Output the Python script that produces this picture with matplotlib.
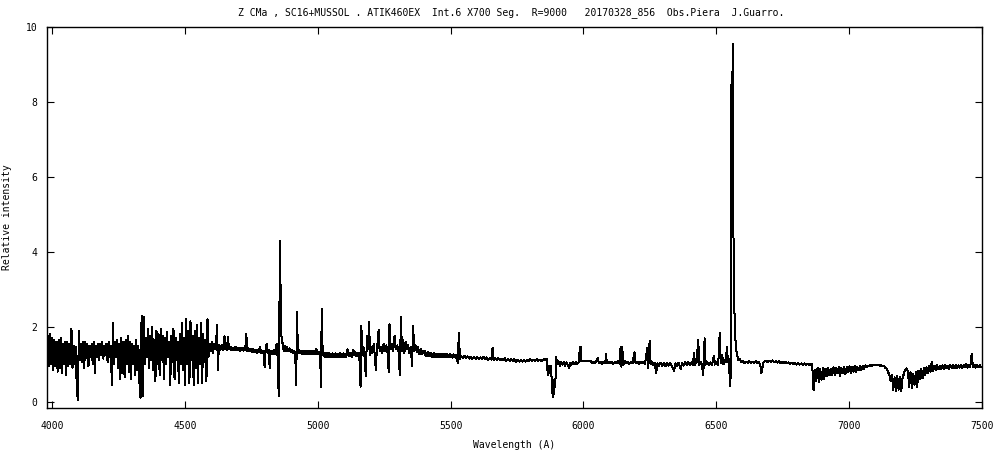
import numpy as np
import matplotlib
matplotlib.use("Agg")
import matplotlib.pyplot as plt

TITLE = "Z CMa , SC16+MUSSOL . ATIK460EX  Int.6 X700 Seg.  R=9000   20170328_856  Obs.Piera  J.Guarro."

# blue end: very noisy, sampled every 4 A from 3981
blue_start, blue_step = 3981, 4
blue_flux = [
    0.35, 1.75, 0.95, 1.80, 1.00, 1.70, 0.85, 1.65, 0.95, 1.60,
    0.80, 1.65, 0.90, 1.70, 0.75, 1.55, 1.00, 1.60, 0.70, 1.60,
    0.95, 1.55, 1.00, 1.95, 0.90, 1.50, 1.00, 1.45, 0.35, 0.05,
    1.90, 1.10, 1.55, 1.05, 1.60, 0.90, 1.60, 1.15, 1.55, 0.95,
    1.50, 1.20, 1.55, 1.00, 1.60, 0.75, 1.50, 1.20, 1.55, 1.10,
    1.55, 1.25, 1.60, 1.15, 1.50, 1.25, 1.55, 1.05, 1.60, 1.20,
    1.50, 0.45, 2.10, 1.00, 1.60, 1.20, 1.65, 0.90, 1.55, 0.60,
    1.70, 0.75, 1.60, 0.65, 1.65, 1.00, 1.75, 0.80, 1.60, 0.60,
    1.55, 1.00, 1.50, 0.70, 1.65, 0.85, 1.50, 0.50, 0.10, 2.30,
    0.15, 2.25, 1.00, 1.70, 1.20, 1.95, 0.90, 1.75, 1.10, 2.00,
    0.85, 1.65, 0.55, 1.90, 1.00, 1.80, 0.70, 1.95, 1.10, 1.75,
    0.60, 1.70, 1.00, 1.85, 1.20, 1.60, 0.45, 1.75, 1.05, 1.95,
    0.60, 1.70, 1.10, 1.60, 0.50, 1.80, 1.00, 2.10, 0.85, 1.70,
    0.45, 2.20, 1.00, 1.90, 0.50, 2.15, 1.10, 1.75, 0.45, 1.90,
    0.90, 2.05, 0.50, 1.70, 1.00, 2.10, 0.50, 1.80, 1.05, 1.65,
    0.55, 2.20, 1.20, 1.55, 1.35, 1.60, 1.30, 1.55, 1.40, 1.50,
]

# (wavelength, flux) pairs
hbeta_part = [
    (4621, 2.05), (4624, 0.85), (4628, 1.50), (4631, 1.38), (4634, 1.48), (4637, 1.40),
    (4640, 1.50), (4644, 1.38), (4649, 1.75), (4652, 1.40), (4655, 1.48), (4658, 1.39),
    (4662, 1.72), (4666, 1.40), (4669, 1.47), (4672, 1.38), (4675, 1.45), (4678, 1.37),
    (4681, 1.44), (4684, 1.38), (4687, 1.46), (4690, 1.37), (4693, 1.45), (4696, 1.38),
    (4699, 1.44), (4702, 1.37), (4705, 1.43), (4708, 1.36), (4711, 1.44), (4714, 1.37),
    (4717, 1.43), (4720, 1.36), (4723, 1.42), (4727, 1.37), (4731, 1.82), (4735, 1.36),
    (4738, 1.42), (4741, 1.35), (4744, 1.41), (4747, 1.34), (4750, 1.40), (4753, 1.33),
    (4756, 1.40), (4759, 1.33), (4762, 1.39), (4765, 1.32), (4768, 1.39), (4771, 1.31),
    (4774, 1.38), (4777, 1.32), (4782, 1.45), (4786, 1.30), (4789, 1.37), (4792, 1.31),
    (4796, 1.36), (4800, 0.93), (4804, 1.38), (4808, 1.55), (4812, 1.31), (4816, 1.38),
    (4819, 0.89), (4823, 1.36), (4826, 1.29), (4829, 1.35), (4832, 1.28), (4835, 1.38),
    (4838, 1.28), (4841, 1.34), (4845, 1.55), (4849, 1.20), (4853, 0.15), (4858, 4.30),
    (4861, 2.35), (4864, 1.65), (4868, 1.55), (4872, 1.35), (4876, 1.48), (4880, 1.36),
    (4885, 1.45), (4890, 1.34), (4895, 1.42), (4900, 1.32), (4904, 1.38), (4908, 1.30),
    (4912, 1.35), (4915, 1.25), (4917, 0.90), (4919, 0.45), (4922, 2.40), (4925, 1.40),
    (4928, 1.31), (4931, 1.37), (4934, 1.29), (4937, 1.36), (4940, 1.28), (4943, 1.35),
    (4946, 1.28), (4949, 1.34), (4952, 1.27), (4955, 1.34), (4958, 1.28), (4961, 1.35),
    (4964, 1.27), (4967, 1.34), (4970, 1.28), (4974, 1.36), (4977, 1.27), (4980, 1.34),
    (4983, 1.28), (4986, 1.35), (4989, 1.27), (4995, 1.40), (4999, 1.27), (5004, 1.33),
    (5009, 1.28), (5012, 0.40), (5015, 2.47), (5018, 1.45), (5022, 1.22), (5025, 1.31),
    (5028, 1.20), (5031, 1.30), (5034, 1.20), (5037, 1.29), (5040, 1.19), (5043, 1.30),
    (5046, 1.18), (5049, 1.28), (5052, 1.19), (5055, 1.29), (5058, 1.20), (5061, 1.28),
    (5064, 1.18), (5067, 1.29), (5070, 1.19), (5073, 1.28), (5076, 1.20), (5079, 1.27),
    (5082, 1.19), (5085, 1.30), (5088, 1.20), (5091, 1.28), (5094, 1.19), (5097, 1.29),
    (5100, 1.20), (5103, 1.28), (5106, 1.20), (5112, 1.40), (5116, 1.22), (5119, 1.31),
    (5122, 1.21), (5125, 1.30), (5128, 1.20), (5134, 1.38), (5138, 1.24), (5141, 1.32),
    (5144, 1.22), (5147, 1.31), (5150, 1.23), (5156, 1.30), (5161, 0.40), (5164, 2.02),
    (5168, 1.25), (5172, 1.45), (5176, 1.20), (5181, 0.67), (5185, 1.75), (5189, 1.40),
    (5193, 2.14), (5197, 1.25), (5202, 1.45), (5206, 1.30), (5211, 1.55), (5215, 1.20),
    (5219, 0.83), (5222, 1.40), (5226, 1.60), (5229, 1.91), (5233, 1.35), (5238, 1.45),
    (5243, 1.30), (5248, 1.55), (5253, 1.35), (5258, 1.50), (5263, 1.30), (5267, 0.80),
    (5270, 2.07), (5274, 1.40), (5279, 1.55), (5284, 1.35), (5289, 1.75), (5294, 1.40),
    (5299, 1.50), (5304, 1.35), (5309, 0.70), (5313, 2.25), (5317, 1.35), (5322, 1.65),
    (5326, 1.30), (5331, 1.60), (5335, 1.40), (5340, 1.50), (5345, 1.30), (5350, 1.45),
    (5355, 0.95), (5359, 2.02), (5363, 1.35), (5368, 1.50), (5373, 1.33), (5378, 1.45),
    (5381, 1.28), (5384, 1.38), (5387, 1.27), (5390, 1.40), (5393, 1.26), (5396, 1.35),
]

green_part = [
    (5402, 1.35), (5405, 1.23), (5408, 1.31), (5411, 1.22), (5414, 1.32), (5417, 1.21),
    (5420, 1.30), (5423, 1.21), (5426, 1.30), (5429, 1.20), (5432, 1.28), (5435, 1.20),
    (5438, 1.29), (5441, 1.20), (5444, 1.27), (5447, 1.19), (5450, 1.28), (5453, 1.20),
    (5456, 1.27), (5459, 1.19), (5462, 1.28), (5465, 1.18), (5468, 1.26), (5471, 1.19),
    (5474, 1.27), (5477, 1.19), (5480, 1.26), (5483, 1.18), (5486, 1.27), (5489, 1.18),
    (5492, 1.25), (5495, 1.18), (5498, 1.26), (5501, 1.18), (5504, 1.25), (5507, 1.17),
    (5510, 1.26), (5513, 1.18), (5516, 1.24), (5519, 1.17), (5522, 1.25), (5527, 1.02),
    (5531, 1.84), (5535, 1.15), (5540, 1.22), (5546, 1.16), (5552, 1.22), (5558, 1.16),
    (5564, 1.21), (5570, 1.15), (5576, 1.20), (5582, 1.14), (5588, 1.20), (5594, 1.14),
    (5600, 1.19), (5606, 1.14), (5612, 1.18), (5618, 1.13), (5624, 1.19), (5630, 1.13),
    (5636, 1.18), (5642, 1.12), (5648, 1.17), (5654, 1.12), (5658, 1.44), (5662, 1.11),
    (5668, 1.17), (5674, 1.11), (5680, 1.16), (5686, 1.10), (5692, 1.15), (5698, 1.10),
    (5704, 1.16), (5710, 1.09), (5716, 1.14), (5722, 1.09), (5728, 1.14), (5734, 1.09),
    (5740, 1.13), (5746, 1.07), (5752, 1.12), (5758, 1.07), (5764, 1.11), (5770, 1.07),
    (5776, 1.11), (5782, 1.07), (5788, 1.12), (5794, 1.08), (5800, 1.13), (5806, 1.09),
    (5812, 1.12), (5818, 1.08), (5824, 1.13), (5830, 1.09), (5836, 1.12), (5842, 1.08),
    (5848, 1.12), (5854, 1.15), (5858, 1.10),
]

sodium_part = [
    (5862, 1.14), (5866, 0.70), (5870, 0.95), (5874, 0.75), (5878, 0.95), (5882, 0.30),
    (5885, 0.13), (5888, 0.20), (5891, 0.58), (5894, 0.40), (5897, 1.20), (5901, 1.00),
    (5906, 1.08), (5911, 0.96), (5916, 1.07), (5921, 0.99), (5926, 1.06), (5931, 0.96),
    (5936, 1.05), (5941, 0.98), (5946, 0.90), (5951, 1.04), (5956, 0.99), (5961, 1.05),
    (5966, 1.00), (5971, 1.05), (5976, 1.01), (5982, 1.05), (5987, 1.45), (5991, 1.45),
    (5992, 1.09), (6000, 1.09), (6010, 1.09), (6020, 1.09), (6027, 1.08), (6032, 1.03),
    (6037, 1.07), (6043, 1.02), (6048, 1.07), (6054, 1.16), (6058, 1.02), (6064, 1.07),
    (6070, 1.01), (6076, 1.06), (6082, 1.02), (6085, 1.27), (6088, 1.02), (6094, 1.07),
    (6100, 1.02), (6106, 1.07), (6112, 1.01), (6118, 1.06), (6124, 1.02), (6130, 1.08),
    (6136, 1.01), (6140, 1.47), (6143, 0.93), (6146, 1.45), (6150, 0.98), (6155, 1.08),
    (6161, 1.02), (6167, 1.07), (6173, 1.01), (6179, 1.06), (6185, 1.02), (6192, 1.32),
    (6196, 1.03), (6202, 1.07), (6208, 1.01), (6214, 1.06), (6220, 1.02), (6226, 1.07),
    (6232, 1.01), (6240, 1.43), (6244, 0.90), (6249, 1.62), (6253, 1.00), (6258, 1.06),
    (6263, 0.97), (6268, 1.04), (6274, 0.76), (6278, 1.02), (6284, 0.95), (6290, 1.04),
    (6296, 0.96), (6302, 1.03), (6308, 0.94), (6314, 1.04), (6320, 0.96), (6326, 1.03),
    (6332, 0.95), (6341, 0.82), (6346, 1.02), (6352, 0.96), (6358, 1.04), (6366, 0.86),
    (6371, 1.03), (6377, 0.96), (6383, 1.05), (6389, 0.97), (6395, 1.06), (6401, 0.98),
    (6407, 1.05), (6412, 0.97), (6416, 1.31), (6420, 0.99), (6426, 1.06), (6432, 1.65),
    (6436, 0.97), (6441, 1.06), (6446, 0.98), (6451, 0.71), (6456, 1.69), (6460, 0.99),
    (6466, 1.06), (6472, 0.97), (6478, 1.05), (6484, 0.98), (6491, 1.22), (6495, 0.99),
    (6501, 1.06), (6507, 0.97), (6513, 1.84), (6517, 1.02), (6522, 1.25), (6527, 1.00),
    (6532, 1.10), (6536, 1.05),
]

halpha_part = [
    (6540, 1.47), (6544, 1.05), (6548, 1.15), (6551, 0.42), (6554, 0.67), (6557, 8.45),
    (6560, 8.45), (6563, 9.55), (6565, 3.60), (6570, 1.83), (6575, 1.38), (6582, 1.11),
    (6588, 1.13), (6594, 1.06), (6600, 1.08), (6606, 1.03), (6612, 1.07), (6618, 1.04),
    (6624, 1.08), (6630, 1.03), (6636, 1.07), (6642, 1.04), (6648, 1.08), (6654, 1.03),
    (6660, 1.06), (6666, 0.95), (6669, 0.77), (6672, 0.80), (6676, 1.04), (6682, 1.07),
    (6688, 1.09), (6694, 1.05), (6700, 1.09), (6706, 1.06), (6712, 1.10), (6718, 1.05),
    (6724, 1.08), (6730, 1.04), (6736, 1.08), (6742, 1.03), (6748, 1.07), (6754, 1.03),
    (6760, 1.06), (6766, 1.02), (6772, 1.05), (6778, 1.01), (6784, 1.04), (6790, 1.00),
    (6796, 1.04), (6802, 0.99), (6808, 1.03), (6814, 0.99), (6820, 1.02), (6826, 0.98),
    (6832, 1.02), (6838, 0.98), (6844, 1.01), (6850, 0.97), (6856, 1.01), (6861, 0.99),
]

# red end with telluric bands, every 5 A from 6866
red_start, red_step = 6866, 5
red_flux = [
    0.31, 0.85, 0.55, 0.90, 0.53, 0.88, 0.58, 0.90, 0.60, 0.88,
    0.68, 0.90, 0.70, 0.88, 0.72, 0.92, 0.70, 0.90, 0.75, 0.92,
    0.68, 0.90, 0.76, 0.93, 0.74, 0.92, 0.78, 0.94, 0.77, 0.92,
    0.80, 0.95, 0.80, 0.93, 0.84, 0.96, 0.85, 0.95, 0.88, 0.97,
    0.92, 0.96, 0.94, 0.98, 0.96, 0.99, 0.97, 0.99, 0.97, 0.98,
    0.96, 0.97, 0.94, 0.95, 0.90, 0.88, 0.80, 0.72, 0.55, 0.70,
    0.30, 0.65, 0.27, 0.68, 0.32, 0.66, 0.28, 0.62, 0.75, 0.85,
    0.89, 0.80, 0.40, 0.78, 0.36, 0.75, 0.45, 0.80, 0.40, 0.82,
    0.60, 0.88, 0.62, 0.90, 0.70, 0.92, 0.75, 0.95, 0.80, 1.07,
    0.82, 0.96, 0.84, 0.97, 0.86, 0.96, 0.88, 0.97, 0.87, 0.98,
    0.89, 0.96, 0.88, 0.98, 0.90, 0.97, 0.89, 0.99, 0.90, 0.97,
    0.91, 0.99, 0.90, 0.98, 0.92, 1.00, 0.91, 0.98, 0.93, 1.27,
    0.92, 0.99, 0.91, 0.98, 0.92, 0.97, 0.93,
]

x_ticks = [4000, 4500, 5000, 5500, 6000, 6500, 7000, 7500]
y_ticks = [0, 2, 4, 6, 8, 10]


def build_spectrum():
    blue_wave = blue_start + blue_step * np.arange(len(blue_flux))
    red_wave = red_start + red_step * np.arange(len(red_flux))
    mid = hbeta_part + green_part + sodium_part + halpha_part
    mid_wave = [p[0] for p in mid]
    mid_flux = [p[1] for p in mid]
    wave = np.concatenate([blue_wave, mid_wave, red_wave])
    flux = np.concatenate([blue_flux, mid_flux, red_flux])
    return wave, flux


def main():
    plt.rcParams["font.family"] = ["DejaVu Sans Mono"]
    wave, flux = build_spectrum()

    fig = plt.figure(figsize=(10, 4.5), dpi=100)
    ax = fig.add_axes([0.047, 0.0933, 0.935, 0.8467])
    # gnuplot-like crisp 1px line
    ax.plot(wave, flux, color="black", lw=0.72, antialiased=False)

    ax.set_xlim(3981, 7500)
    ax.set_ylim(-0.17, 10)
    ax.set_xticks(x_ticks)
    ax.set_yticks(y_ticks)
    ax.tick_params(direction="in", length=5, width=0.8, top=True, right=True,
                   labelsize=7, color="black")
    ax.tick_params(axis="x", pad=9)
    ax.tick_params(axis="y", pad=7)
    for s in ax.spines.values():
        s.set_linewidth(1.0)

    ax.set_xlabel("Wavelength (A)", fontsize=7)
    ax.set_ylabel("Relative intensity", fontsize=7)
    ax.xaxis.set_label_coords(0.5, -0.084)
    ax.yaxis.set_label_coords(-0.037, 0.5)

    fig.text(0.511, 1 - 13 / 450, TITLE, ha="center", va="center", fontsize=7)

    fig.savefig("out.png", dpi=100)
    plt.close(fig)


if __name__ == "__main__":
    main()
